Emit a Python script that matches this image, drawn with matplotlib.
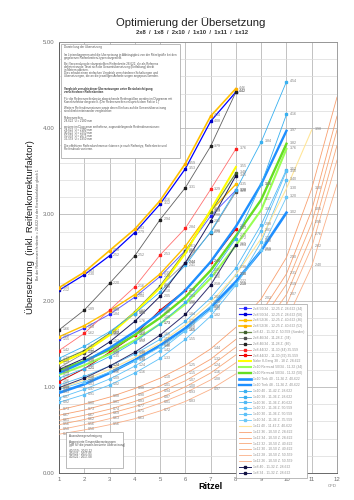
import matplotlib
matplotlib.use("Agg")
import matplotlib.pyplot as plt
from matplotlib.patches import Rectangle
from matplotlib.ticker import MultipleLocator, FormatStrFormatter

plt.rcParams['font.family'] = ['Liberation Sans', 'DejaVu Sans']

ritzel_ticks = list(range(1, 13))

# Übersetzungen je Ritzel
blau_klein = [1.55, 1.68, 1.84, 2.04, 2.28, 2.58, 2.98, 3.28]
blau_gross = [2.12, 2.30, 2.52, 2.79, 3.12, 3.53, 4.08, 4.42]
gold_klein = [1.58, 1.71, 1.88, 2.07, 2.31, 2.63, 3.04, 3.35]
gold_gross = [2.15, 2.33, 2.58, 2.83, 3.16, 3.59, 4.14, 4.46]
oliv = [1.29, 1.42, 1.62, 1.87, 2.17, 2.57, 3.03, 3.48]
grau_klein = [1.22, 1.39, 1.62, 1.85, 2.16, 2.44, 2.79, 3.26]
grau_gross = [1.66, 1.89, 2.20, 2.52, 2.94, 3.31, 3.79, 4.42]
rot_gross = [1.42, 1.62, 1.89, 2.16, 2.53, 2.84, 3.29, 3.76]
rot_klein = [1.06, 1.21, 1.40, 1.60, 1.89, 2.12, 2.45, 2.83]
gelb = [1.27, 1.40, 1.60, 1.86, 2.15, 2.55, 3.05, 3.55]
gruen_hell = [1.14, 1.25, 1.38, 1.54, 1.73, 1.96, 2.26, 2.64, 3.05, 3.76]
gruen = [1.19, 1.30, 1.43, 1.60, 1.80, 2.04, 2.35, 2.75, 3.17, 3.82]
blau10_klein = [0.93, 1.03, 1.16, 1.31, 1.48, 1.68, 1.92, 2.22, 2.58, 3.02]
blau10_gross = [1.16, 1.29, 1.45, 1.64, 1.86, 2.12, 2.45, 2.86, 3.35, 3.97]
hellblau_1 = [1.33, 1.47, 1.64, 1.85, 2.10, 2.41, 2.80, 3.28, 3.84, 4.54]
hellblau_2 = [1.10, 1.21, 1.35, 1.52, 1.73, 1.98, 2.30, 2.72, 3.35, 4.16]
hellblau_3 = [1.02, 1.12, 1.24, 1.38, 1.55, 1.76, 2.03, 2.38, 2.88, 3.52]
hellblau_4 = [0.87, 0.97, 1.09, 1.24, 1.42, 1.65, 1.93, 2.30, 2.81, 3.50]
hellblau_5 = [0.82, 0.91, 1.02, 1.16, 1.33, 1.55, 1.82, 2.18, 2.68, 3.40]
hellblau_6 = [0.97, 1.06, 1.17, 1.30, 1.46, 1.65, 1.89, 2.19, 2.59, 3.20]
hellgelb = [0.98, 1.08, 1.20, 1.34, 1.51, 1.72, 1.98, 2.30, 2.72, 3.30, 3.98]
lachs_1 = [0.73, 0.80, 0.88, 0.98, 1.10, 1.25, 1.44, 1.69, 2.02, 2.50, 3.30, 4.36]
lachs_2 = [0.67, 0.73, 0.81, 0.90, 1.01, 1.15, 1.32, 1.55, 1.86, 2.31, 3.05, 4.14]
lachs_3 = [0.61, 0.67, 0.74, 0.83, 0.94, 1.07, 1.24, 1.46, 1.76, 2.19, 2.90, 3.98]
lachs_4 = [0.56, 0.62, 0.69, 0.77, 0.87, 1.00, 1.16, 1.37, 1.66, 2.07, 2.76, 3.80]
lachs_5 = [0.50, 0.56, 0.63, 0.71, 0.81, 0.93, 1.08, 1.28, 1.55, 1.95, 2.62, 3.63]
lachs_6 = [0.45, 0.50, 0.56, 0.63, 0.72, 0.83, 0.97, 1.15, 1.40, 1.77, 2.40, 3.35]
navy_1 = [1.20, 1.33, 1.52, 1.76, 2.05, 2.44, 2.92, 3.45]
navy_2 = [0.99, 1.10, 1.24, 1.40, 1.60, 1.84, 2.18, 2.65]

serien = [blau_klein, blau_gross, gold_klein, gold_gross, oliv, grau_klein, grau_gross,
          rot_gross, rot_klein, gelb, gruen_hell, gruen, blau10_klein, blau10_gross,
          hellblau_1, hellblau_2, hellblau_3, hellblau_4, hellblau_5, hellblau_6,
          hellgelb, lachs_1, lachs_2, lachs_3, lachs_4, lachs_5, lachs_6, navy_1, navy_2]

namen = [
    "2x8 50/34 - 12-25 Z. 28-622 (34)", "2x8 50/34 - 12-25 Z. 28-622 (50)",
    "2x8 52/36 - 12-25 Z. 40-622 (36)", "2x8 52/36 - 12-25 Z. 40-622 (52)",
    "1x8 42 - 11-32 Z. 50-559 (Sonder)", "2x8 46/34 - 11-28 Z. (34)",
    "2x8 46/34 - 11-28 Z. (46)", "2x8 44/32 - 11-30 (44) 35-559",
    "2x8 44/32 - 11-30 (32) 35-559", "Nabe 8-Gang 38 - 18 Z. 28-622",
    "2x10 Rennrad 50/34 - 11-32 (34)", "2x10 Rennrad 50/34 - 11-32 (50)",
    "1x10 Trek 40 - 11-36 Z. 40-622", "1x10 Trek 48 - 11-36 Z. 40-622",
    "1x10 40 - 11-42 Z. 28-622", "1x10 38 - 11-36 Z. 28-622",
    "1x10 36 - 11-36 Z. 40-622", "1x10 32 - 11-36 Z. 50-559",
    "1x10 30 - 11-36 Z. 50-559", "1x10 34 - 11-36 Z. 35-559",
    "1x11 40 - 11-42 Z. 40-622", "1x12 36 - 10-50 Z. 28-622",
    "1x12 34 - 10-50 Z. 28-622", "1x12 32 - 10-50 Z. 40-622",
    "1x12 30 - 10-50 Z. 40-622", "1x12 28 - 10-50 Z. 50-559",
    "1x12 26 - 10-50 Z. 50-559", "1x8 40 - 11-32 Z. 28-622",
    "1x8 34 - 11-32 Z. 28-622"]

# Farbe, Linienbreite, Marker, Markerfarbe
stile = [
    ("#6060FF", 0.7, "s", "#2020FF"), ("#0000FF", 0.9, "s", "#0000CC"),
    ("#FFC000", 1.0, "s", "#FFC000"), ("#FFC000", 1.2, "s", "#FFB000"),
    ("#6F8F4F", 0.9, "s", "#3F5F2F"), ("#909090", 0.6, "s", "#505050"),
    ("#606060", 0.6, "s", "#202020"), ("#FF7070", 0.6, "s", "#FF2020"),
    ("#C00000", 0.7, "s", "#FF0000"), ("#FFFF00", 1.5, None, None),
    ("#99FF55", 1.5, None, None), ("#66DD22", 1.7, None, None),
    ("#1E8FFF", 1.9, None, None), ("#1E8FFF", 1.7, None, None),
    ("#38B0F0", 0.6, "s", "#38B0F0"), ("#38B0F0", 0.6, "s", "#38B0F0"),
    ("#4FB8F5", 0.6, "s", "#4FB8F5"), ("#5CC0F8", 0.6, "s", "#5CC0F8"),
    ("#5CC0F8", 0.6, "s", "#5CC0F8"), ("#6AC8F8", 0.6, "s", "#6AC8F8"),
    ("#FFE699", 0.8, None, None), ("#F8A070", 0.6, None, None),
    ("#F8A070", 0.6, None, None), ("#F8A878", 0.6, None, None),
    ("#F8A878", 0.6, None, None), ("#FAB088", 0.6, None, None),
    ("#FAB088", 0.6, None, None), ("#1F1F5F", 0.7, "s", "#101040"),
    ("#2F2F6F", 0.7, "s", "#101040")]

fig = plt.figure(figsize=(3.54, 5.0), dpi=100)
ax = fig.add_axes([59/354, 1-473/500, (337-59)/354, (473-42)/500])

for werte, name, (farbe, lw, mk, mfarbe) in zip(serien, namen, stile):
    xs = list(range(1, len(werte) + 1))
    ax.plot(xs, werte, color=farbe, lw=lw, marker=mk, ms=1.5 if mk else 0,
            mfc=mfarbe, mec=mfarbe, label=name, zorder=3)
    for x, v in zip(xs, werte):
        # Werte unter dem Legendenkasten sind verdeckt
        if 7.5 < x < 11.5 and v < 2.0:
            continue
        t = ax.annotate(f"{v:.2f}", (x, v), xytext=(2.5, 0.5), textcoords="offset points",
                        fontsize=2.6, color="#808080", va="center", zorder=4)
        t.set_clip_on(True)
        t.set_clip_box(ax.bbox)

ax.set_xlim(1, 12)
ax.set_ylim(0, 5)
ax.set_xticks(ritzel_ticks)
ax.yaxis.set_major_locator(MultipleLocator(1))
ax.yaxis.set_minor_locator(MultipleLocator(0.2))
ax.yaxis.set_major_formatter(FormatStrFormatter("%.2f"))
ax.grid(which="major", axis="both", color="#B8B8B8", lw=0.6, zorder=0)
ax.grid(which="minor", axis="y", color="#DADADA", lw=0.5, zorder=0)
ax.tick_params(which="both", length=0, labelsize=4.3, labelcolor="#707070", pad=3)
for s in ax.spines.values():
    s.set_color("#909090")
    s.set_linewidth(0.6)
ax.spines["left"].set_color("#505050")
ax.spines["bottom"].set_color("#505050")

ax.set_xlabel("Ritzel", fontsize=6.5, fontweight="bold", labelpad=1)
ax.xaxis.set_label_coords((210-59)/(337-59), -0.022)

fig.text(0.54, 0.955, "Optimierung der Übersetzung", ha="center", va="center",
         fontsize=8.2, color="#202020")
fig.text(0.542, 0.936, "2x8  /  1x8  /  2x10  /  1x10  /  1x11  /  1x12", ha="center",
         va="center", fontsize=4.2, fontweight="bold", color="#303030")
fig.text(0.085, 0.545, "Übersetzung  (inkl. Reifenkorrekturfaktor)", rotation=90,
         ha="center", va="center", fontsize=6.8, color="#202020")
fig.text(0.106, 0.55, "Bei der Referenzreifenbreite = 28-622 ist der Korrekturfaktor gleich 1",
         rotation=90, ha="center", va="center", fontsize=2.6, color="#505050")
fig.text(332/354, 1-486/500, "CFD", ha="center", va="center", fontsize=3.2, color="#808080")

# Textkasten oben links
fig.patches.append(Rectangle((61/354, 1-158/500), (180-61)/354, (158-44)/500,
                             transform=fig.transFigure, fc="white", ec="#A0A0A0",
                             lw=0.5, zorder=5))
info_zeilen = [
    (47, "Darstellung der Übersetzung", False),
    (55, "Im Liniendiagramm wird die Übersetzung in Abhängigkeit von der Ritzelgröße bei den", False),
    (58, "gegebenen Reifenbreiten/-typen dargestellt.", False),
    (64, "Bei Verwendung der dargestellten Reifenbreite 28-622, die als Referenz", False),
    (67, "definiert wurde, lässt sich die Gesamtübersetzung (Entfaltung) direkt", False),
    (70, "in Metern ablesen.", False),
    (73, "Dies erlaubt einen einfachen Vergleich verschiedener Schaltungen und", False),
    (76, "Übersetzungen, die an die jeweiligen Anforderungen angepasst werden.", False),
    (89, "Vergleich verschiedener Übersetzungen unter Berücksichtigung", True),
    (92, "verschiedener Reifenbreiten", True),
    (99, "Für die Referenzreifenbreite abweichende Reifengrößen werden im Diagramm mit", False),
    (102, "Korrekturfaktor dargestellt. (Der Referenzreifen entspricht dem Faktor 1.)", False),
    (108, "Weitere Reifendimensionen sowie deren Einfluss auf die Gesamtübersetzung", False),
    (111, "sind direkt miteinander vergleichbar.", False),
    (118, "Referenzreifen:", False),
    (121, "28-622  U = 2180 mm", False),
    (127, "weitere im Diagramm enthaltene, zugrundeliegende Reifendimensionen:", False),
    (130, "28-622  U = 2180 mm", False),
    (133, "40-622  U = 2250 mm", False),
    (136, "50-559  U = 2075 mm", False),
    (139, "35-559  U = 1950 mm", False),
    (146, "Die effektiven Reifendurchmesser können je nach Reifentyp, Reifenbreite und", False),
    (149, "Reifendruck variieren.", False),
]
for py, txt, fett in info_zeilen:
    fig.text(64/354, 1-py/500, txt, ha="left", va="center", fontsize=2.1,
             color="#303030" if fett else "#505050",
             fontweight="bold" if fett else "normal", zorder=6)

# Kasten unten links
fig.patches.append(Rectangle((66/354, 1-468/500), (123-66)/354, (468-432)/500,
                             transform=fig.transFigure, fc="white", ec="#A0A0A0",
                             lw=0.5, zorder=5))
kasten_zeilen = [
    (435.5, "Ausnahmegenehmigung"),
    (442, "Aggregierte Gesamtübersetzungen"),
    (445, "(gilt für die jeweils breiteste Übersetzung)"),
    (451, "40-559 : 2012-12"),
    (454, "40-622 : 2017-05"),
    (457, "40-622 : 2017-08"),
]
for py, txt in kasten_zeilen:
    fig.text(69/354, 1-py/500, txt, ha="left", va="center", fontsize=2.2,
             color="#505050", zorder=6)

leg = ax.legend(loc="upper left", bbox_to_anchor=(234/354, 1-302/500),
                bbox_transform=fig.transFigure, fontsize=2.4, handlelength=3.8,
                labelspacing=0.56, borderpad=0.9, handletextpad=0.5,
                frameon=True, fancybox=False, edgecolor="#A0A0A0", framealpha=1)
leg.set_zorder(10)
leg.get_frame().set_linewidth(0.5)
for t in leg.get_texts():
    t.set_color("#909090")

fig.savefig("out.png", dpi=100)
